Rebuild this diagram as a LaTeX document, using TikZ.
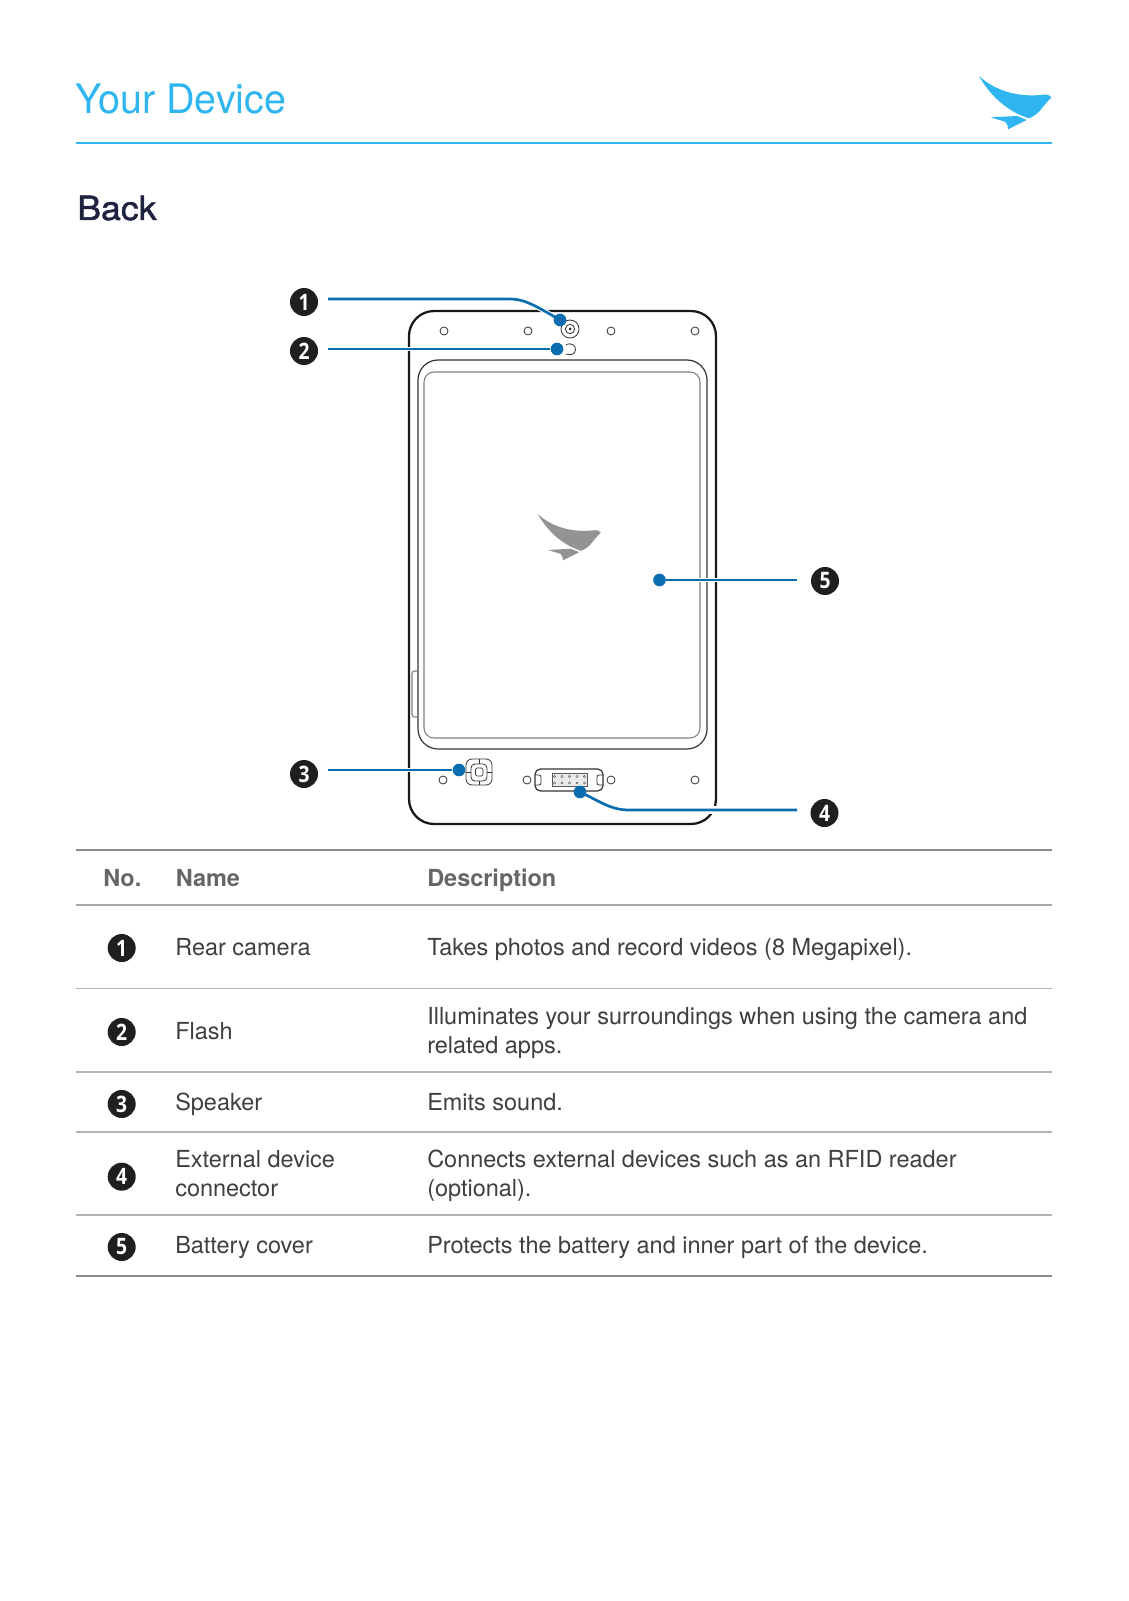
\documentclass[tikz,border=0pt]{standalone}
\usepackage{fontspec}
\setmainfont{TeX Gyre Heros}
\newfontfamily\titlef[FakeStretch=0.97]{TeX Gyre Heros}
\newfontfamily\backf[FakeStretch=1.07,FakeBold=1.4]{TeX Gyre Heros}
\newfontfamily\numf[FakeStretch=0.85]{Open Sans}
\definecolor{cyanbrand}{HTML}{2FB6F0}
\definecolor{leader}{HTML}{0A6DB0}
\definecolor{navy}{HTML}{1F2340}
\definecolor{bodytxt}{HTML}{3F3F3F}
\definecolor{headtxt}{HTML}{666666}
\definecolor{rulegray}{HTML}{8C8C8C}
\definecolor{midrule}{HTML}{A6A6A6}
\definecolor{thinrule}{HTML}{B5B5B5}
\definecolor{logogray}{HTML}{939393}
\pgfdeclarelayer{front}
\pgfsetlayers{main,front}
\tikzset{
  num/.style={circle,fill=black!88,text=white,minimum size=21pt,inner sep=0pt,font=\numf\bfseries\fontsize{17}{17}\selectfont},
  body/.style={anchor=west,inner sep=0pt,align=left,text=bodytxt,font=\fontsize{17.6}{21.6}\selectfont},
  head/.style={anchor=base west,inner sep=0pt,text=headtxt,font=\bfseries\fontsize{17.6}{21.6}\selectfont},
  dev/.style={draw=black!90,line width=1.7pt},
  devthin/.style={draw=black!80,line width=0.9pt},
  devgray/.style={draw=black!50,line width=0.8pt},
  hole/.style={circle,draw=black!80,line width=0.6pt,minimum size=6pt,inner sep=0pt},
  pin/.style={draw=black!70,line width=0.35pt},
  dot/.style={circle,fill=leader,minimum size=9.5pt,inner sep=0pt},
  lead/.style={draw=leader,line width=2pt},
  halo/.style={draw=white,line width=3.6pt},
  rulethick/.style={draw=rulegray,line width=2.2pt},
  rulemid/.style={draw=midrule,line width=1.3pt},
  rulethin/.style={draw=thinrule,line width=0.8pt},
}
\newcommand{\birdlogo}[1]{%
  \fill[#1] (0,0) .. controls (30,28) and (90,65) .. (185,57)
    .. controls (195,56) and (205,52) .. (218,64)
    .. controls (205,75) and (195,90) .. (180,107)
    .. controls (170,117) and (160,123) .. (150,127)
    .. controls (95,110) and (40,70) .. (0,0) -- cycle;
  \fill[#1] (35,124) -- (115,120) -- (143,132)
    -- (87,160) .. controls (87,150) and (85,142) .. (78,137) -- cycle;
}
\begin{document}
\begin{tikzpicture}[x=0.75pt,y=-0.75pt]
\useasboundingbox[fill=white] (0,0) rectangle (1128,1601);

% header
\node[anchor=base west,inner sep=0pt,text=cyanbrand,font=\titlef\fontsize{30.5}{36}\selectfont] (title) at (75,113.5) {Your Device};
\draw[draw=cyanbrand,line width=1.5pt] (76,143) coordinate (hl) -- (1052,143) coordinate (hr);
\begin{scope}[shift={(979,76)},x=0.25pt,y=-0.25pt]
\birdlogo{cyanbrand}
\end{scope}
\node[anchor=base west,inner sep=0pt,text=navy,font=\backf\fontsize{25}{30}\selectfont] (back) at (77,220) {Back};

\begin{scope}[shift={(1,0)}]
% device
\draw[dev,rounded corners=18.75pt] (408,311) rectangle (715,824);
\draw[devthin,rounded corners=15pt] (417,360) rectangle (706,749);
\draw[devgray,rounded corners=7.5pt] (423,372) rectangle (699,738);
\draw[devgray,rounded corners=2pt] (418,671) -- (411,671) -- (411,717) -- (418,717);
\begin{scope}[shift={(536.7,514)},x=0.2175pt,y=-0.2175pt]
\birdlogo{logogray}
\end{scope}
% holes
\foreach \n/\x/\y in {a/443/331,b/527/331,c/610/331,d/694/331,e/442/780,f/526/780,g/610/780,h/694/780}
  \node[hole] (h\n) at (\x,\y) {};
% camera, flash
\node[circle,draw=black!80,line width=0.6pt,minimum size=13.5pt,inner sep=0pt] (camo) at (569,329) {};
\node[circle,draw=black!80,line width=0.6pt,minimum size=7pt,inner sep=0pt] (cami) at (569,329) {};
\fill[black!85] (569,329) circle[radius=1.5];
\draw[black!80,line width=0.6pt] (565,344.5) .. controls (570,342.5) and (574.5,345) .. (574.5,349.5) .. controls (574.5,354) and (570,356) .. (565,354);
% speaker
\draw[black!80,line width=0.6pt,rounded corners=4.5pt] (465,759) rectangle (491,785);
\draw[black!80,line width=0.6pt,rounded corners=3pt] (470,764) rectangle (486,781);
\draw[black!80,line width=0.6pt,rounded corners=1pt] (474.5,768) rectangle (482,776);
\draw[black!80,line width=0.5pt] (478,759) -- (478,764) (478,781) -- (478,785) (465,772) -- (470,772) (486,772) -- (491,772);
% connector
\draw[devthin,rounded corners=4pt] (534,769) rectangle (602,791);
\draw[black!80,line width=0.6pt,rounded corners=1.5pt] (534,775) -- (540,775) -- (540,785) -- (534,785);
\draw[black!80,line width=0.6pt,rounded corners=1.5pt] (602,775) -- (596,775) -- (596,785) -- (602,785);
\draw[black!65,line width=0.5pt,fill=black!8] (551,773) rectangle (586,786);
\foreach \x in {553.5,561,568.5,576,583.5} {
  \draw[pin] (\x,776.5) circle[radius=1.1];
  \draw[pin] (\x,783) circle[radius=1.1];
}

% leaders
\begin{pgfonlayer}{front}
\node[dot] (d1) at (559,320) {};
\node[dot] (d2) at (556,349) {};
\node[dot] (d3) at (458,770) {};
\node[dot] (d4) at (579,792) {};
\node[dot] (d5) at (658.5,580) {};
\end{pgfonlayer}
\coordinate (l1) at (327,299);
\coordinate (l2) at (327,349);
\coordinate (l3) at (327,770);
\coordinate (l4) at (796,810);
\coordinate (l5) at (796,580);
\coordinate (gapa) at (692,810);
\coordinate (gapb) at (728,810);
\draw[halo] (l1) -- (508,299) .. controls (522,299) and (530,303) .. (d1.center);
\draw[halo] (l2) -- (d2);
\draw[halo] (l3) -- (d3);
\draw[halo] (d4.center) .. controls (600,802) and (610,810) .. (628,810) -- (l4);
\draw[halo,line width=6pt] (gapa) -- (gapb);
\draw[halo] (d5) -- (l5);
\draw[lead] (l1) -- (508,299) .. controls (522,299) and (530,303) .. (d1.center);
\draw[lead] (l2) -- (d2);
\draw[lead] (l3) -- (d3);
\draw[lead] (d4.center) .. controls (600,802) and (610,810) .. (628,810) -- (l4);
\draw[lead] (d5) -- (l5);
\node[num] (n1) at (303,302) {1};
\node[num] (n2) at (303,351) {2};
\node[num] (n3) at (303,774) {3};
\node[num] (n4) at (823.5,813) {4};
\node[num] (n5) at (824,581) {5};
\end{scope}

% table
\draw[rulethick] (76,850) coordinate (t0l) -- (1052,850) coordinate (t0r);
\draw[rulemid] (76,905) coordinate (t1l) -- (1052,905) coordinate (t1r);
\draw[rulethin] (76,988.3) coordinate (t2l) -- (1052,988.3) coordinate (t2r);
\draw[rulethin] (76,1072) coordinate (t3l) -- (1052,1072) coordinate (t3r);
\draw[rulethin] (76,1132) coordinate (t4l) -- (1052,1132) coordinate (t4r);
\draw[rulethin] (76,1215) coordinate (t5l) -- (1052,1215) coordinate (t5r);
\draw[rulethick] (76,1276) coordinate (t6l) -- (1052,1276) coordinate (t6r);

\node[head] (hno) at (103,886) {No.};
\node[head] (hname) at (175.5,886) {Name};
\node[head] (hdesc) at (427,886) {Description};

\node[num] (r1) at (121.7,948) {1};
\node[num] (r2) at (121.7,1032) {2};
\node[num] (r3) at (121.7,1104) {3};
\node[num] (r4) at (121.7,1176.7) {4};
\node[num] (r5) at (121.7,1247) {5};

\node[body] (name1) at (175,949.5) {\strut Rear camera};
\node[body] (name2) at (175,1033.5) {\strut Flash};
\node[body] (name3) at (175,1105.2) {\strut Speaker};
\node[body] (name4) at (175,1176.6) {\strut External device\\\strut connector};
\node[body] (name5) at (175,1248.2) {\strut Battery cover};

\node[body] (desc1) at (427,949.5) {\strut Takes photos and record videos (8 Megapixel).};
\node[body] (desc2) at (427,1033.3) {\strut Illuminates your surroundings when using the camera and\\\strut related apps.};
\node[body] (desc3) at (427,1105.2) {\strut Emits sound.};
\node[body] (desc4) at (427,1176.6) {\strut Connects external devices such as an RFID reader\\\strut (optional).};
\node[body] (desc5) at (427,1248.2) {\strut Protects the battery and inner part of the device.};
\end{tikzpicture}
\end{document}
